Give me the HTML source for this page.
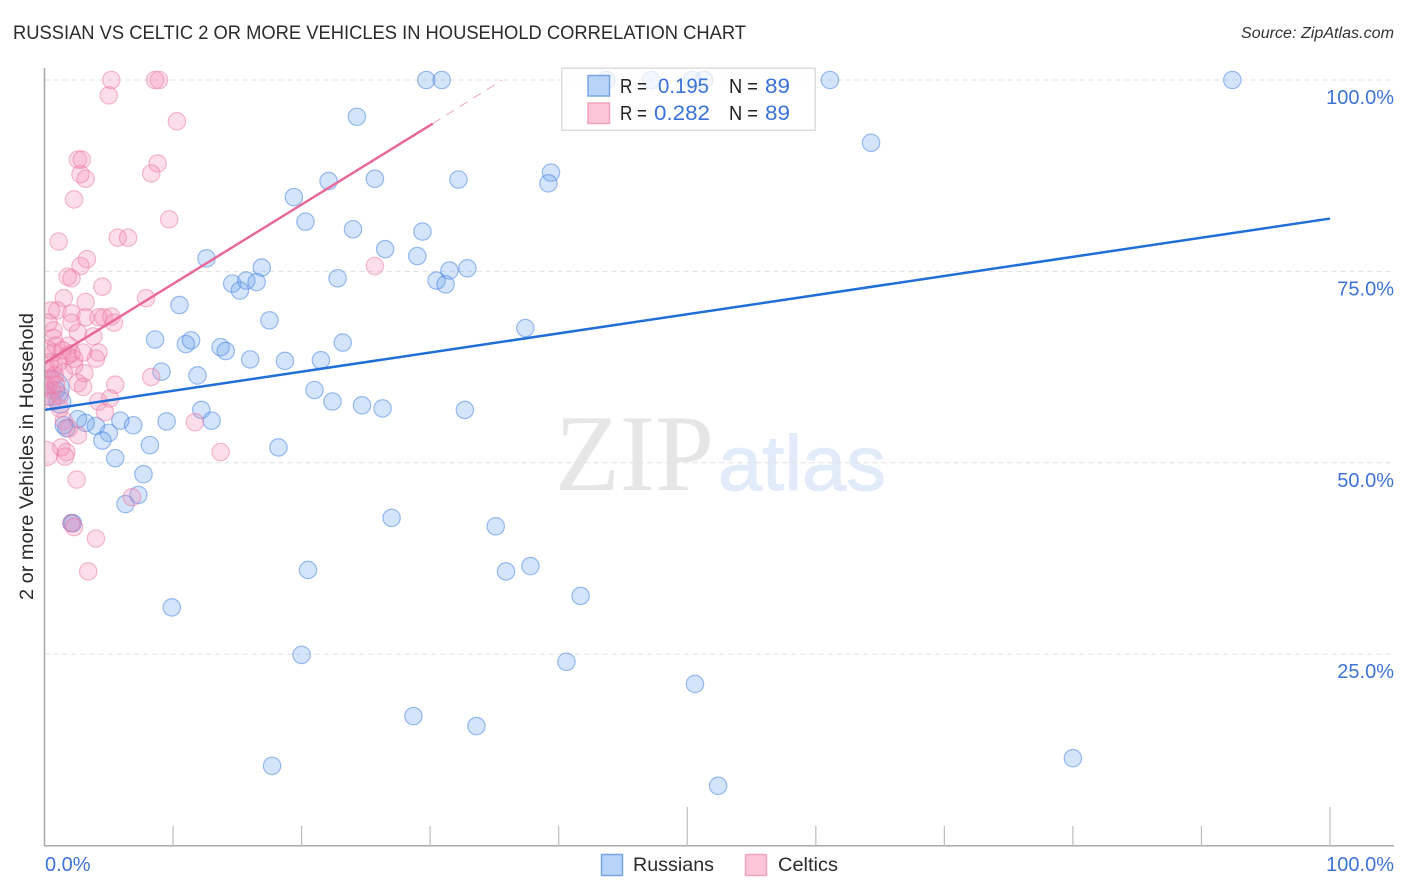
<!DOCTYPE html>
<html lang="en">
<head>
<meta charset="utf-8">
<title>Russian vs Celtic 2 or More Vehicles in Household Correlation Chart</title>
<style>
html,body{margin:0;padding:0;background:#fff;}
svg{display:block;font-family:"Liberation Sans",sans-serif;}
</style>
</head>
<body>
<svg id="chart" xmlns="http://www.w3.org/2000/svg" width="1406" height="892" viewBox="0 0 1406 892">
  <defs>
    <clipPath id="plot-clip"><rect x="44.5" y="60" width="1360" height="786"/></clipPath>
  </defs>
  <rect x="0" y="0" width="1406" height="892" fill="#ffffff"/>
  <text x="13" y="39" font-size="19" fill="#2b2b2b" textLength="733" lengthAdjust="spacingAndGlyphs">RUSSIAN VS CELTIC 2 OR MORE VEHICLES IN HOUSEHOLD CORRELATION CHART</text>
  <text x="1241" y="38" font-size="15.5" font-style="italic" fill="#333333" textLength="153" lengthAdjust="spacingAndGlyphs">Source: ZipAtlas.com</text>
  <g>
    <text x="555" y="490" font-family="'Liberation Serif',serif" font-size="109" fill="#e6e6e6" textLength="159" lengthAdjust="spacingAndGlyphs">ZIP</text>
    <text x="718" y="490" font-family="'Liberation Sans',sans-serif" font-size="78" fill="#e2ebf9" stroke="#e2ebf9" stroke-width="1" textLength="168" lengthAdjust="spacingAndGlyphs">atlas</text>
  </g>
  <g id="grid"></g>
  <g id="points" clip-path="url(#plot-clip)"></g>
  <g id="trends"></g>
  <g id="axes"></g>
  <text transform="translate(33,600) rotate(-90)" x="0" y="0" font-size="19.5" fill="#2b2b2b" textLength="287" lengthAdjust="spacingAndGlyphs">2 or more Vehicles in Household</text>
  <g>
    <rect x="561.75" y="68.25" width="253.5" height="62" fill="#ffffff" fill-opacity="0.72" stroke="#dddddd" stroke-width="1.5"/>
    <rect x="588" y="75.5" width="21.5" height="20.5" fill="#b8d3f8" stroke="#7ba6e6" stroke-width="1.5"/>
    <rect x="588" y="103" width="21.5" height="20.5" fill="#fcc6d8" stroke="#f3a4bf" stroke-width="1.5"/>
    <text x="620" y="93" font-size="20" fill="#222222" textLength="27" lengthAdjust="spacingAndGlyphs">R =</text>
    <text x="658" y="93" font-size="21" fill="#3a72d8" textLength="51" lengthAdjust="spacingAndGlyphs">0.195</text>
    <text x="729" y="93" font-size="20" fill="#222222" textLength="29" lengthAdjust="spacingAndGlyphs">N =</text>
    <text x="765" y="93" font-size="21" fill="#3a72d8" textLength="25" lengthAdjust="spacingAndGlyphs">89</text>
    <text x="620" y="120" font-size="20" fill="#222222" textLength="27" lengthAdjust="spacingAndGlyphs">R =</text>
    <text x="654" y="120" font-size="21" fill="#3a72d8" textLength="56" lengthAdjust="spacingAndGlyphs">0.282</text>
    <text x="729" y="120" font-size="20" fill="#222222" textLength="29" lengthAdjust="spacingAndGlyphs">N =</text>
    <text x="765" y="120" font-size="21" fill="#3a72d8" textLength="25" lengthAdjust="spacingAndGlyphs">89</text>
  </g>
  <g>
    <rect x="601.5" y="854.5" width="21" height="21" fill="#b8d3f8" stroke="#7ba6e6" stroke-width="1.5"/>
    <text x="633" y="871" font-size="19.5" fill="#2b2b2b" textLength="81" lengthAdjust="spacingAndGlyphs">Russians</text>
    <rect x="745.5" y="854.5" width="21" height="21" fill="#fcc6d8" stroke="#f3a4bf" stroke-width="1.5"/>
    <text x="778" y="871" font-size="19.5" fill="#2b2b2b" textLength="60" lengthAdjust="spacingAndGlyphs">Celtics</text>
  </g>
</svg>
<script>
const russianX = [29.7,30.9,43.7,47.2,50.4,51.3,61.1,92.4,24.3,64.3,39.4,39.2,25.7,32.2,22.1,19.4,20.3,24.0,29.4,26.5,29.0,12.6,16.9,14.6,15.7,16.5,15.2,22.8,30.5,31.5,32.9,31.2,10.5,17.5,37.4,8.6,11.0,11.4,13.7,14.1,23.2,16.0,18.7,21.5,9.1,11.9,21.0,22.4,24.7,26.3,32.7,12.2,13.0,9.5,5.9,6.9,4.0,3.2,2.6,5.0,4.5,18.2,8.2,5.5,7.7,7.3,6.3,27.0,2.1,2.2,35.1,37.8,35.9,20.5,9.9,41.7,20.0,40.6,50.6,28.7,33.6,17.7,52.4,80.0,1.5,1.7,0.6,0.9,1.2];
const russianY = [100,100,100,100,100,100,100,100,95.2,91.8,87.9,86.5,87.1,87.0,86.8,84.7,81.5,80.5,80.2,77.9,77.0,76.7,75.5,73.4,73.8,73.6,72.5,74.1,73.8,75.1,75.4,73.3,70.6,68.6,67.6,66.1,65.5,66.0,65.1,64.6,65.7,63.5,63.3,63.4,61.9,61.4,59.5,58.0,57.5,57.1,56.9,56.9,55.5,55.4,55.5,54.9,54.8,55.2,55.7,53.9,52.9,52.0,52.3,50.6,48.5,45.8,44.6,42.8,42.1,42.1,41.7,36.5,35.8,36.0,31.1,32.6,24.9,24.0,21.1,16.9,15.6,10.4,7.8,11.4,54.9,54.5,59.7,59.5,57.9];
const russianWeight = [1,1,1,1,1,1,1,1,1,1,1,1,1,1,1,1,1,1,1,1,1,1,1,1,1,1,1,1,1,1,1,1,1,1,1,1,1,1,1,1,1,1,1,1,1,1,1,1,1,1,1,1,1,1,1,1,1,1,1,1,1,1,1,1,1,1,1,1,1,1,1,1,1,1,1,1,1,1,1,1,1,1,1,1,1,1,1.95,1,1.25];

const celticX = [5.2,8.6,8.9,5.0,10.3,8.8,8.3,2.6,2.9,2.8,3.2,2.3,9.7,1.1,5.7,6.5,3.3,2.8,1.8,2.1,25.7,4.5,7.9,1.5,3.2,1.0,0.5,2.1,2.1,3.2,4.2,4.6,5.2,5.4,2.6,3.8,0.7,0.7,0.3,0.9,1.9,3.0,2.1,2.3,4.2,4.0,0.7,3.1,2.3,1.5,2.6,3.0,5.5,0.7,0.5,1.1,8.3,0.3,0.6,0.2,0.9,1.2,5.1,4.2,4.7,11.7,1.5,1.9,2.6,1.3,1.7,1.6,0.1,13.7,2.5,6.8,2.1,2.3,4.0,3.4,0.1,0.4,0.2,0.6,1.2,0.8,1.8,1.4,0.0];
const celticY = [100,100,100,98.0,94.6,89.1,87.8,89.6,89.6,87.7,87.1,84.4,81.8,78.9,79.4,79.4,76.6,75.7,74.3,74.1,75.7,73.0,71.5,71.5,71.0,69.9,69.9,69.5,68.3,69.0,69.0,69.0,69.1,68.3,67.0,66.5,67.3,66.3,68.3,65.3,65.3,64.4,64.3,63.6,64.4,63.6,64.4,61.7,62.7,61.8,60.4,59.9,60.2,62.3,61.0,63.1,61.2,60.1,59.5,58.7,60.2,58.8,58.4,58.0,56.6,55.3,55.5,54.5,53.6,52.0,51.4,50.8,51.2,51.4,47.8,45.5,42.1,41.6,40.1,35.8,62.3,63.1,64.9,58.0,57.1,61.4,64.0,64.7,60.1];
const celticWeight = [1,1,1,1,1,1,1,1,1,1,1,1,1,1,1,1,1,1,1,1,1,1,1,1,1,1,1,1,1,1,1,1,1,1,1,1,1,1,1,1,1,1,1,1,1,1,1,1,1,1,1,1,1,1,1,1,1,1,1,1,1,1,1,1,1,1,1,1,1,1,1,1,1.4,1,1,1,1,1,1,1,1,1,1,1,1,1,1,1,1];

const russianTrendX = [0, 100];
const russianTrendY = [56.9, 81.9];
const celticTrendX = [0, 30.2];
const celticTrendY = [63.0, 94.3];
const celticTrendExtensionX = [30.2, 35.6];
const celticTrendExtensionY = [94.3, 100];

const yTickValues = [100, 75, 50, 25];
const yTickLabels = ["100.0%", "75.0%", "50.0%", "25.0%"];
const xTickValues = [10, 20, 30, 40, 50, 60, 70, 80, 90, 100];
const xMajorTicks = [50, 100];
const xEndLabels = ["0.0%", "100.0%"];

const NS = "http://www.w3.org/2000/svg";
function xScale(v) { return 44.5 + v * 12.855; }
function yScale(v) { return 845.5 - v * 7.655; }
function make(parent, tag, attrs) {
  const el = document.createElementNS(NS, tag);
  for (const k in attrs) el.setAttribute(k, attrs[k]);
  parent.appendChild(el);
  return el;
}

const grid = document.getElementById("grid");
yTickValues.forEach(function (v) {
  const line = make(grid, "line", {x1: 44.5, x2: 1394, y1: yScale(v), y2: yScale(v), stroke: "#e0e0e0", "stroke-width": 1, "stroke-dasharray": "5 4"});
  
  
});

const pointsLayer = document.getElementById("points");
russianX.forEach(function (x, i) {
  const c = make(pointsLayer, "circle", {cx: xScale(x), cy: yScale(russianY[i]), r: 8.7 * russianWeight[i], fill: "#70a5ee", "fill-opacity": 0.3, stroke: "#3d7fe0", "stroke-opacity": 0.5, "stroke-width": 1.2});
  
  
});
celticX.forEach(function (x, i) {
  const c = make(pointsLayer, "circle", {cx: xScale(x), cy: yScale(celticY[i]), r: 8.7 * celticWeight[i], fill: "#f58ab2", "fill-opacity": 0.28, stroke: "#ea7aa2", "stroke-opacity": 0.5, "stroke-width": 1.2});
  
  
});

const trends = document.getElementById("trends");
const trendRussians = make(trends, "line", {x1: xScale(russianTrendX[0]), y1: yScale(russianTrendY[0]), x2: xScale(russianTrendX[1]), y2: yScale(russianTrendY[1]), stroke: "#1f6fd6", "stroke-width": 2.5});


const trendCeltics = make(trends, "line", {x1: xScale(celticTrendX[0]), y1: yScale(celticTrendY[0]), x2: xScale(celticTrendX[1]), y2: yScale(celticTrendY[1]), stroke: "#e8689a", "stroke-width": 2.5});


const trendExtension = make(trends, "line", {x1: xScale(celticTrendExtensionX[0]), y1: yScale(celticTrendExtensionY[0]), x2: xScale(celticTrendExtensionX[1]), y2: yScale(celticTrendExtensionY[1]), stroke: "#f0a5c0", "stroke-width": 1, "stroke-dasharray": "9 7"});



const axes = document.getElementById("axes");
const yAxis = make(axes, "line", {x1: 44.5, x2: 44.5, y1: 68, y2: 846, stroke: "#a8a8a8", "stroke-width": 1.5});


const xAxis = make(axes, "line", {x1: 44, x2: 1394, y1: 845.75, y2: 845.75, stroke: "#a8a8a8", "stroke-width": 1.5});



xTickValues.forEach(function (v) {
  const top = xMajorTicks.indexOf(v) >= 0 ? 807 : 826;
  const tick = make(axes, "line", {x1: xScale(v), x2: xScale(v), y1: top, y2: 846, stroke: "#bdbdbd", "stroke-width": 1.2});
  
  
});

yTickLabels.forEach(function (label, i) {
  const t = make(axes, "text", {x: 1394, y: yScale(yTickValues[i]) + 24, "text-anchor": "end", "font-size": 20, fill: "#3f74d6"});
  t.textContent = label;
  
  
});

const xStart = make(axes, "text", {x: 45, y: 871, "font-size": 20, fill: "#3f74d6"});
xStart.textContent = xEndLabels[0];


const xEnd = make(axes, "text", {x: 1394, y: 871, "text-anchor": "end", "font-size": 20, fill: "#3f74d6"});
xEnd.textContent = xEndLabels[1];


</script>
</body>
</html>
